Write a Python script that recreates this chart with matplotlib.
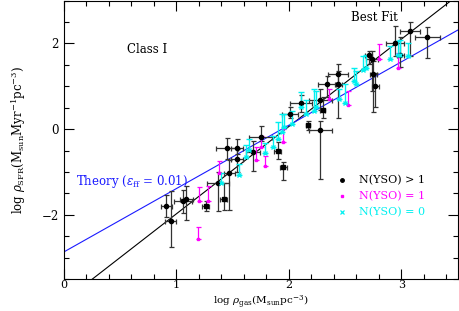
import numpy as np
import matplotlib
matplotlib.use('Agg')
from matplotlib import pyplot as plt
from matplotlib.ticker import MultipleLocator

plt.rcParams['font.family'] = 'DejaVu Serif'
plt.rcParams['mathtext.fontset'] = 'dejavuserif'

# N(YSO) > 1 : x, y, xerr, yerr down, yerr up
bx = [0.91, 0.95, 1.06, 1.09, 1.37, 1.47, 1.45, 1.54, 1.54, 1.68, 1.75, 2.01, 2.11,
      2.28, 2.28, 2.34, 2.44, 2.44, 2.71, 2.74, 2.75, 2.77, 2.94, 2.99, 3.08, 3.23]
by = [-1.80, -2.15, -1.67, -1.63, -1.26, -1.03, -0.45, -0.43, -0.71, -0.53, -0.18, 0.36, 0.60,
      -0.01, 0.69, 1.05, 1.28, 1.05, 1.72, 1.63, 1.29, 1.01, 2.01, 1.74, 2.28, 2.16]
bxe = [0.05, 0.05, 0.08, 0.06, 0.10, 0.05, 0.10, 0.05, 0.05, 0.06, 0.10, 0.07, 0.10,
       0.10, 0.10, 0.08, 0.09, 0.03, 0.03, 0.05, 0.03, 0.03, 0.08, 0.03, 0.09, 0.11]
bye_lo = [0.25, 0.60, 0.30, 0.50, 0.65, 0.85, 0.25, 0.15, 0.30, 0.45, 0.10, 0.10, 0.20,
          1.15, 0.25, 0.30, 0.25, 0.80, 0.20, 0.75, 0.90, 0.50, 0.30, 0.30, 0.58, 0.50]
bye_hi = [0.25, 0.70, 0.25, 0.30, 0.25, 0.30, 0.25, 0.20, 0.25, 0.25, 0.25, 0.15, 0.20,
          0.20, 0.25, 0.20, 0.25, 0.30, 0.10, 0.20, 0.30, 0.30, 0.40, 0.40, 0.23, 0.23]

# N(YSO) > 1 plotted as squares
sx = [1.26, 1.42, 1.90, 1.95, 2.17, 2.30]
sy = [-1.79, -1.63, -0.51, -0.89, 0.09, 0.45]
sxe = [0.03, 0.03, 0.03, 0.03, 0.02, 0.02]
sye_lo = [0.12, 0.27, 0.20, 0.30, 0.12, 0.20]
sye_hi = [0.10, 0.37, 0.20, 0.13, 0.10, 0.30]

# N(YSO) = 1 (upper bars only)
mx = [1.19, 1.20, 1.28, 1.38, 1.71, 1.75, 1.79, 1.95, 2.36, 2.53, 2.80, 2.97]
my = [-2.57, -1.67, -1.67, -1.03, -0.72, -0.42, -0.87, -0.30, 0.70, 0.56, 1.63, 1.43]
me = [0.29, 0.31, 0.33, 0.29, 0.30, 0.25, 0.23, 0.30, 0.24, 0.33, 0.35, 0.35]

# N(YSO) = 0 (upper bars only)
cx = [1.40, 1.56, 1.62, 1.65, 1.79, 1.86, 1.90, 1.94, 1.96, 2.03, 2.11, 2.15,
      2.22, 2.24, 2.45, 2.50, 2.58, 2.60, 2.66, 2.69, 2.90, 2.97, 2.99, 3.06]
cy = [-1.26, -1.07, -0.65, -0.49, -0.56, -0.42, -0.22, -0.07, 0.05, 0.12, 0.51, 0.36,
      0.43, 0.51, 0.70, 0.62, 1.12, 1.05, 1.39, 1.43, 1.63, 1.74, 1.74, 1.70]
ce = [0.23, 0.25, 0.28, 0.25, 0.23, 0.27, 0.38, 0.42, 0.31, 0.31, 0.35, 0.32,
      0.50, 0.38, 0.23, 0.43, 0.31, 0.31, 0.31, 0.31, 0.31, 0.31, 0.35, 0.31]

fit_slope, fit_icpt = 2.04, -4.02
th_slope, th_icpt = 1.48, -2.87

fig = plt.figure(figsize=(4.59, 3.11), dpi=100)
ax = fig.add_axes([0.139, 0.103, 0.858, 0.895])

xl = np.array([0, 3.5])
ax.plot(xl, fit_slope * xl + fit_icpt, color='black', lw=0.8)
ax.plot(xl, th_slope * xl + th_icpt, color='#1a1aff', lw=0.8)

ax.errorbar(bx, by, xerr=bxe, yerr=[bye_lo, bye_hi], fmt='o', ms=3, color='black',
            ecolor='#333333', elinewidth=0.9, capsize=1.8, capthick=0.9)
ax.errorbar(sx, sy, xerr=sxe, yerr=[sye_lo, sye_hi], fmt='s', ms=3, color='black',
            ecolor='#333333', elinewidth=0.9, capsize=1.8, capthick=0.9)
ax.errorbar(mx, my, yerr=[np.zeros(len(me)), me], fmt='s', ms=2, color='#ff00ff',
            elinewidth=0.9, capsize=1.8, capthick=0.9)
ax.errorbar(cx, cy, yerr=[np.zeros(len(ce)), ce], fmt='x', ms=3.5, mew=1.0, color='#00f0f0',
            elinewidth=1.0, capsize=2.0, capthick=1.0)

# legend drawn as text
ax.plot([2.47], [-1.2], 'o', ms=2.5, color='black')
ax.plot([2.47], [-1.57], 's', ms=2, color='#ff00ff')
ax.plot([2.47], [-1.94], 'x', ms=2.5, mew=0.9, color='#00f0f0')
ax.text(2.62, -1.2, 'N(YSO) > 1', fontsize=8, va='center', color='black')
ax.text(2.62, -1.57, 'N(YSO) = 1', fontsize=8, va='center', color='#ff00ff')
ax.text(2.62, -1.94, 'N(YSO) = 0', fontsize=8, va='center', color='#00f0f0')

ax.text(0.74, 1.85, 'Class I', fontsize=8.5, ha='center', va='center')
ax.text(2.76, 2.6, 'Best Fit', fontsize=8.5, ha='center', va='center')
ax.text(0.11, -1.23, r'Theory ($\epsilon_{\rm ff}$ = 0.01)', fontsize=8.5,
        color='#1a1aff', va='center')

ax.set_xlim(0, 3.5)
ax.set_ylim(-3.5, 3)
ax.xaxis.set_major_locator(MultipleLocator(1))
ax.xaxis.set_minor_locator(MultipleLocator(0.2))
ax.yaxis.set_major_locator(MultipleLocator(2))
ax.yaxis.set_minor_locator(MultipleLocator(0.5))
ax.tick_params(which='both', direction='in', top=True, right=True, labelsize=8.5, width=0.8)
ax.tick_params(which='major', length=7)
ax.tick_params(which='minor', length=3.5)
ax.tick_params(axis='x', pad=1, labelsize=8)
for s in ax.spines.values():
    s.set_linewidth(0.8)

ax.set_xlabel(r'log $\rho_{\rm gas}(\rm M_{sun}pc^{-3})$', fontsize=7.5, va='bottom')
ax.xaxis.set_label_coords(0.5, -0.112)
ax.set_ylabel(r'log $\rho_{\rm SFR}(\rm M_{sun}Myr^{-1}pc^{-3})$', fontsize=8.5, labelpad=10)

fig.savefig('out.png', dpi=100)
